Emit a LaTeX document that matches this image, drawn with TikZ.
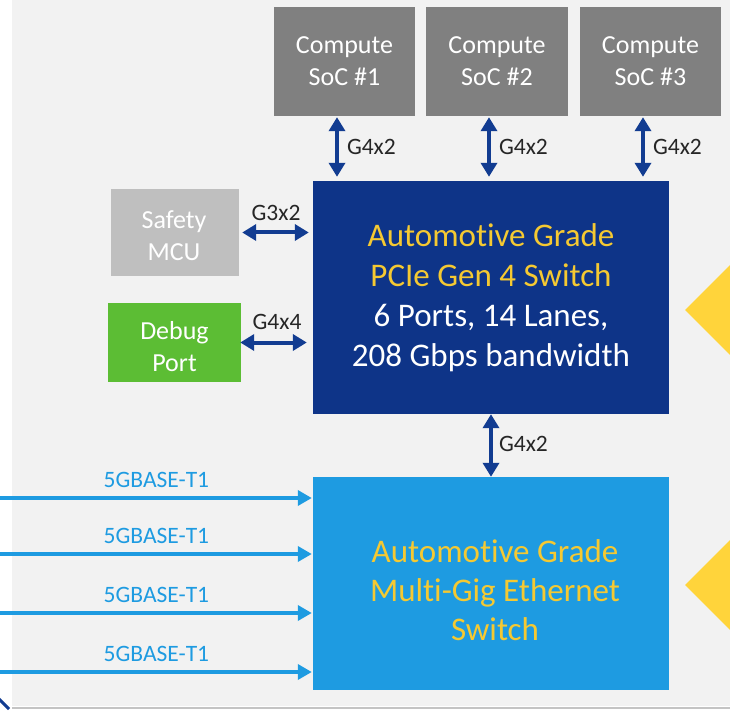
\documentclass[tikz,border=0pt]{standalone}
\usepackage{fontspec}
\setmainfont[Ligatures={NoCommon,NoRequired,NoContextual,NoRare}]{Carlito}
\usetikzlibrary{arrows.meta,calc}

\definecolor{panel}{HTML}{F2F2F2}
\definecolor{paneledge}{HTML}{C4C4C4}
\definecolor{socgray}{HTML}{808080}
\definecolor{mcugray}{HTML}{BFBFBF}
\definecolor{dbggreen}{HTML}{5CBD34}
\definecolor{pciblue}{HTML}{0E3488}
\definecolor{ethblue}{HTML}{1E9BE1}
\definecolor{linkblue}{HTML}{123C91}
\definecolor{goldtext}{HTML}{F5C932}
\definecolor{marker}{HTML}{FFD43B}
\definecolor{labeltext}{HTML}{262626}

% "ti" typed with a break so the pair is never fused
\newcommand{\tisep}{t\kern0pt i}

\tikzset{
  block/.style={rectangle, inner sep=0pt, draw=none, align=center},
  socbox/.style={block, fill=socgray, text=white, minimum width=141pt,
    minimum height=109pt, font=\fontsize{26}{32}\selectfont},
  sidebox/.style={block, text=white, font=\fontsize{26}{32}\selectfont},
  switchbox/.style={block, minimum width=356pt, font=\fontsize{33}{40}\selectfont},
  linkarrow/.style={draw=linkblue, line width=4pt,
    {Triangle[width=16pt,length=14pt]}-{Triangle[width=16pt,length=14pt]}},
  ethline/.style={draw=ethblue, line width=3.6pt, -{Triangle[width=15pt,length=14pt]}},
  linklabel/.style={inner sep=0pt, text=labeltext, font=\fontsize{23.5}{27}\selectfont},
  ethlabel/.style={inner sep=0pt, text=ethblue, font=\fontsize{23.5}{27}\selectfont}
}

\begin{document}
\begin{tikzpicture}[x=1pt, y=-1pt]
\useasboundingbox (0,0) rectangle (730,711);

% page and panel
\fill[white] (0,0) rectangle (730,711);
\fill[panel] (12,0) rectangle (730,706);
\draw[paneledge, line width=2pt] (12,707.5) -- (730,707.5);

% yellow side markers
\fill[marker] (685,310) -- (740,255) -- (740,365) -- cycle;
\fill[marker] (685,585) -- (740,530) -- (740,640) -- cycle;

% corner fragment
\draw[linkblue, line width=3pt] (-2,698) -- (9,709);

% compute SoCs
\node[socbox] (soc1) at (344.5,61.5) {Compute\\SoC \#1};
\node[socbox, minimum width=142pt] (soc2) at (497,61.5) {Compute\\SoC \#2};
\node[socbox] (soc3) at (650.5,61.5) {Compute\\SoC \#3};

% switches
\node[switchbox, fill=pciblue, text=white, minimum height=233pt] (pcie) at (491,297.5)
  {\textcolor{goldtext}{Automo\tisep ve Grade}\\
   \textcolor{goldtext}{PCIe Gen 4 Switch}\\
   6 Ports, 14 Lanes,\\
   208 Gbps bandwidth};
\node[switchbox, fill=ethblue, minimum height=213pt] (eth) at (491,583.5) {};
\node[block, text=goldtext, font=\fontsize{33}{39}\selectfont] (ethtext) at (495,590)
  {Automo\tisep ve Grade\\Mul\tisep-Gig Ethernet\\Switch};

% side devices
\node[sidebox, fill=mcugray, minimum width=128pt, minimum height=87pt] (mcu) at (175,232.5) {};
\node[sidebox] (mcutext) at (174,236) {Safety\\MCU};
\node[sidebox, fill=dbggreen, minimum width=133pt, minimum height=79pt] (dbg) at (174.5,342.5) {};
\node[sidebox] (dbgtext) at (174.5,347) {Debug\\Port};

% PCIe links to the SoCs
\foreach \s/\dx in {soc1/-7.5, soc2/-8, soc3/-7.5}{
  \draw[linkarrow, shorten <=1pt, shorten >=4pt]
    ([xshift=\dx pt]\s.south) -- ([xshift=\dx pt]\s.south |- pcie.north)
    node[midway, anchor=west, xshift=8pt, yshift=2pt, linklabel] {G4x2};
}

% PCIe link to the Ethernet switch
\draw[linkarrow] (pcie.south) -- (eth.north)
  node[midway, anchor=west, xshift=6pt, yshift=2pt, linklabel] {G4x2};

% side links
\draw[linkarrow, shorten <=3pt, shorten >=4pt] (mcu.east) -- (mcu.east -| pcie.west)
  node[midway, yshift=20pt, linklabel] {G3x2};
\draw[linkarrow, shorten <=-1pt, shorten >=6pt] (dbg.east) -- (dbg.east -| pcie.west)
  node[midway, yshift=21pt, linklabel] {G4x4};

% 5GBASE-T1 inputs
\foreach \i/\y in {1/498, 2/554, 3/613, 4/672}{
  \coordinate (src\i) at (0,\y);
  \draw[ethline, shorten >=1pt] (src\i) -- (src\i -| eth.west)
    node[midway, yshift=18pt, ethlabel] {5GBASE-T1};
}
\end{tikzpicture}
\end{document}
